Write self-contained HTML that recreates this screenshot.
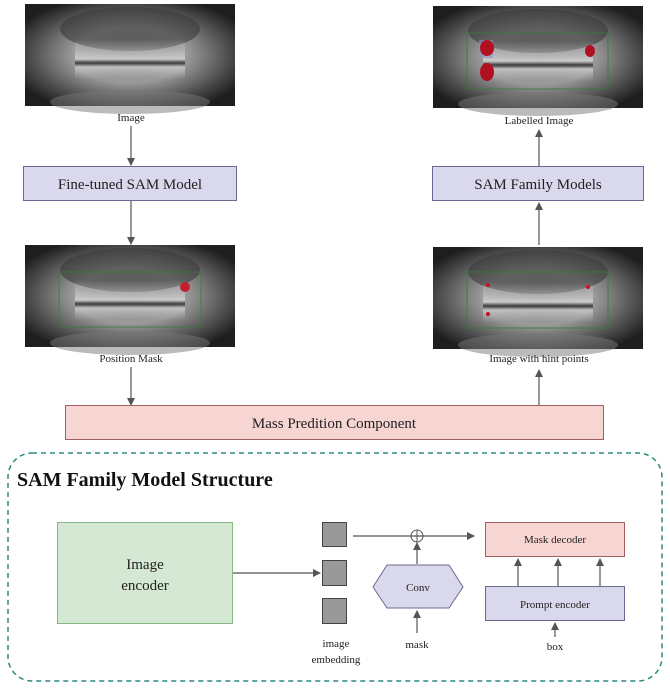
<!DOCTYPE html>
<html><head><meta charset="utf-8"><style>
html,body{margin:0;padding:0;background:#fff;}
svg{display:block;font-family:"Liberation Serif",serif;}
</style></head><body>
<svg width="670" height="689" viewBox="0 0 670 689" xmlns="http://www.w3.org/2000/svg">
<defs>
<radialGradient id="xr" cx="50%" cy="50%" r="60%">
<stop offset="0" stop-color="#8a8a8a"/><stop offset="0.45" stop-color="#9a9a9a"/><stop offset="0.75" stop-color="#555"/><stop offset="1" stop-color="#1e1e1e"/>
</radialGradient>
<linearGradient id="jaw" x1="0" y1="0" x2="0" y2="1">
<stop offset="0" stop-color="#bbb" stop-opacity="0"/><stop offset="0.5" stop-color="#d8d8d8" stop-opacity="0.8"/><stop offset="0.6" stop-color="#222" stop-opacity="0.8"/><stop offset="0.7" stop-color="#ccc" stop-opacity="0.8"/><stop offset="1" stop-color="#bbb" stop-opacity="0"/>
</linearGradient>
<marker id="ah" markerWidth="8" markerHeight="8" refX="7" refY="4" orient="auto" markerUnits="userSpaceOnUse"><path d="M0,0 L8,4 L0,8 z" fill="#555"/></marker>
<g id="xray">
<rect x="0" y="0" width="210" height="102" fill="url(#xr)"/>
<ellipse cx="105" cy="25" rx="70" ry="22" fill="#3a3a3a" opacity="0.6"/>
<rect x="50" y="35" width="110" height="40" fill="url(#jaw)"/>
<ellipse cx="105" cy="98" rx="80" ry="12" fill="#777" opacity="0.5"/>
</g>
</defs>

<use href="#xray" x="25" y="4"/>
<text x="131" y="121" font-size="11" text-anchor="middle" fill="#222">Image</text>
<line x1="131" y1="126" x2="131" y2="165" stroke="#555" stroke-width="1.2" marker-end="url(#ah)"/>
<rect x="23.5" y="166.5" width="213" height="34" fill="#d9d8ec" stroke="#6a6a90"/>
<text x="130" y="189" font-size="15" text-anchor="middle" fill="#222">Fine-tuned  SAM Model</text>
<line x1="131" y1="201" x2="131" y2="244" stroke="#555" stroke-width="1.2" marker-end="url(#ah)"/>
<use href="#xray" x="25" y="245"/>
<rect x="59" y="272" width="142" height="55" fill="none" stroke="#3a7a3a" stroke-width="0.8"/>
<circle cx="185" cy="287" r="5" fill="#c0202a"/>
<text x="131" y="362" font-size="11" text-anchor="middle" fill="#222">Position Mask</text>
<line x1="131" y1="367" x2="131" y2="405" stroke="#555" stroke-width="1.2" marker-end="url(#ah)"/>

<use href="#xray" x="433" y="6"/>
<rect x="467" y="33" width="141" height="56" fill="none" stroke="#3a7a3a" stroke-width="0.8"/>
<rect x="479" y="40" width="14" height="18" fill="#9090c0" opacity="0.6"/>
<ellipse cx="487" cy="48" rx="7" ry="8" fill="#b01020"/>
<ellipse cx="487" cy="72" rx="7" ry="9" fill="#b01020"/>
<ellipse cx="590" cy="51" rx="5" ry="6" fill="#b01020"/>
<text x="539" y="124" font-size="11" text-anchor="middle" fill="#222">Labelled Image</text>
<line x1="539" y1="166" x2="539" y2="130" stroke="#555" stroke-width="1.2" marker-end="url(#ah)"/>
<rect x="432.5" y="166.5" width="211" height="34" fill="#d9d8ec" stroke="#6a6a90"/>
<text x="538" y="189" font-size="15" text-anchor="middle" fill="#222">SAM Family Models</text>
<line x1="539" y1="245" x2="539" y2="203" stroke="#555" stroke-width="1.2" marker-end="url(#ah)"/>
<use href="#xray" x="433" y="247"/>
<rect x="467" y="272" width="141" height="56" fill="none" stroke="#3a7a3a" stroke-width="0.8"/>
<circle cx="488" cy="285" r="2" fill="#d01020"/><circle cx="488" cy="314" r="2" fill="#d01020"/><circle cx="588" cy="287" r="2" fill="#d01020"/>
<text x="539" y="362" font-size="11" text-anchor="middle" fill="#222">Image with hint points</text>
<line x1="539" y1="405" x2="539" y2="370" stroke="#555" stroke-width="1.2" marker-end="url(#ah)"/>

<rect x="65.5" y="405.5" width="538" height="34" fill="#f6d5d3" stroke="#a06060"/>
<text x="334" y="428" font-size="15" text-anchor="middle" fill="#222">Mass Predition Component</text>

<rect x="8" y="453" width="654" height="228" rx="24" fill="none" stroke="#2a8a80" stroke-width="1.5" stroke-dasharray="5,4"/>
<text x="17" y="486" font-size="20" font-weight="bold" fill="#111">SAM Family Model Structure</text>
<rect x="57.5" y="522.5" width="175" height="101" fill="#d5e8d3" stroke="#8ab884"/>
<text x="145" y="569" font-size="15" text-anchor="middle" fill="#222">Image</text>
<text x="145" y="590" font-size="15" text-anchor="middle" fill="#222">encoder</text>
<line x1="233" y1="573" x2="320" y2="573" stroke="#555" stroke-width="1.2" marker-end="url(#ah)"/>
<rect x="322.5" y="522.5" width="24" height="24" fill="#999" stroke="#444"/>
<rect x="322.5" y="560.5" width="24" height="25" fill="#999" stroke="#444"/>
<rect x="322.5" y="598.5" width="24" height="25" fill="#999" stroke="#444"/>
<line x1="353" y1="536" x2="474" y2="536" stroke="#555" stroke-width="1.2" marker-end="url(#ah)"/>
<circle cx="417" cy="536" r="6" fill="none" stroke="#555"/>
<line x1="417" y1="530" x2="417" y2="542" stroke="#555"/>
<line x1="417" y1="564" x2="417" y2="543" stroke="#555" stroke-width="1.2" marker-end="url(#ah)"/>
<polygon points="373,587 387,565 449,565 463,587 449,608 387,608" fill="#d9d8ec" stroke="#6a6a90"/>
<text x="418" y="591" font-size="11" text-anchor="middle" fill="#222">Conv</text>
<line x1="417" y1="633" x2="417" y2="611" stroke="#555" stroke-width="1.2" marker-end="url(#ah)"/>
<text x="417" y="648" font-size="11" text-anchor="middle" fill="#222">mask</text>
<text x="336" y="647" font-size="11" text-anchor="middle" fill="#222">image</text>
<text x="336" y="663" font-size="11" text-anchor="middle" fill="#222">embedding</text>
<rect x="485.5" y="522.5" width="139" height="34" fill="#f6d5d3" stroke="#a06060"/>
<text x="555" y="543" font-size="11" text-anchor="middle" fill="#222">Mask decoder</text>
<rect x="485.5" y="586.5" width="139" height="34" fill="#d9d8ec" stroke="#6a6a90"/>
<text x="555" y="608" font-size="11" text-anchor="middle" fill="#222">Prompt encoder</text>
<line x1="518" y1="586" x2="518" y2="559" stroke="#555" stroke-width="1.2" marker-end="url(#ah)"/>
<line x1="558" y1="586" x2="558" y2="559" stroke="#555" stroke-width="1.2" marker-end="url(#ah)"/>
<line x1="600" y1="586" x2="600" y2="559" stroke="#555" stroke-width="1.2" marker-end="url(#ah)"/>
<line x1="555" y1="637" x2="555" y2="623" stroke="#555" stroke-width="1.2" marker-end="url(#ah)"/>
<text x="555" y="650" font-size="11" text-anchor="middle" fill="#222">box</text>
</svg>
</body></html>
